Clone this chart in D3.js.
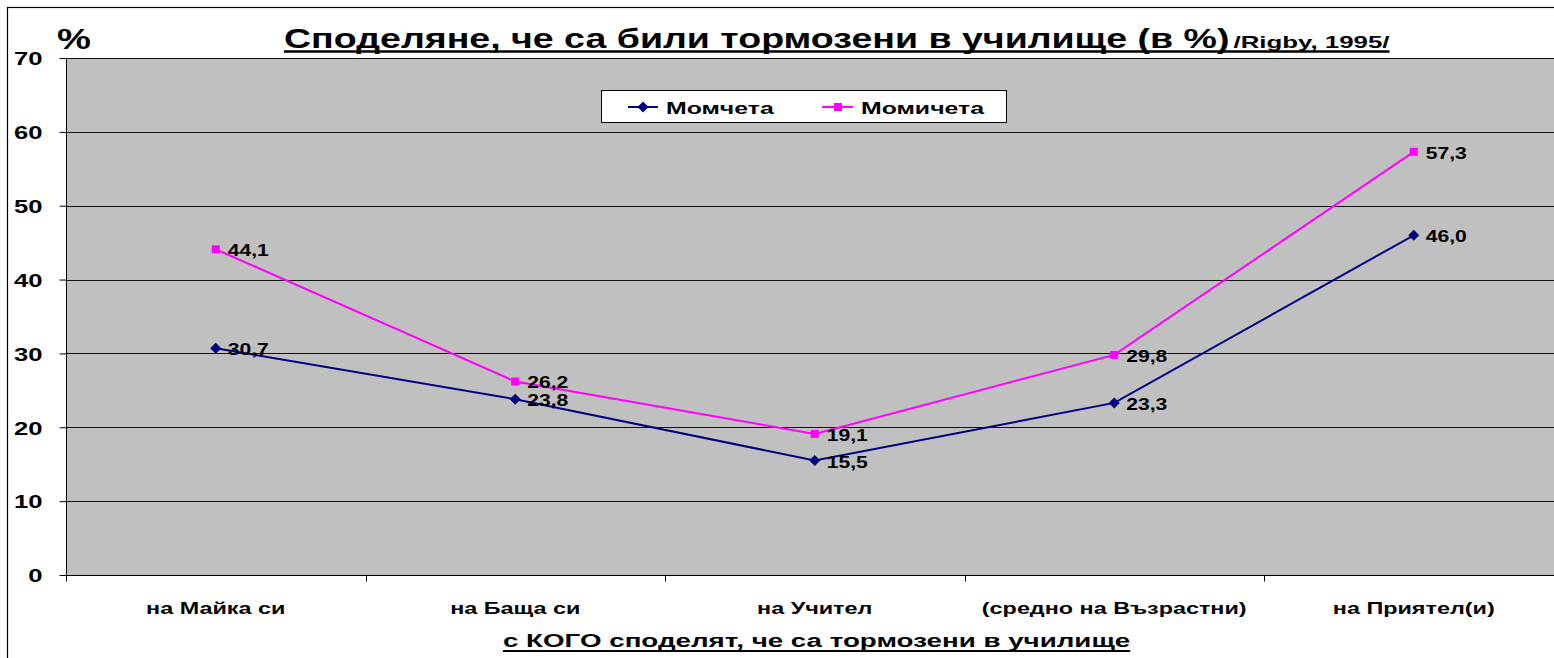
<!DOCTYPE html>
<html><head><meta charset="utf-8">
<script src="https://cdn.jsdelivr.net/npm/d3@7"></script>
<style>html,body{margin:0;padding:0;background:#fff;overflow:hidden}svg{display:block;font-family:"Liberation Sans",Arial,sans-serif}</style>
</head><body>
<svg id="c" width="1554" height="658"></svg>
<script>
const categories = ["на Майка си","на Баща си","на Учител","(средно на Възрастни)","на Приятел(и)"];
const boys = [30.7, 23.8, 15.5, 23.3, 46.0];
const girls = [44.1, 26.2, 19.1, 29.8, 57.3];
const seriesNames = ["Момчета","Момичета"];
const yTicks = [0,10,20,30,40,50,60,70];

(function(){
const svg = d3.select("#c");
const pLeft = 66, pTop = 58, pBottom = 575, bandW = 299.5;
const pRight = pLeft + bandW * categories.length;
const x = d3.scaleBand().domain(categories).range([pLeft, pRight]).padding(0);
const y = d3.scaleLinear().domain([0,70]).range([pBottom, pTop]);
const fmt = v => v.toFixed(1).replace(".", ",");

// horizontally widen text (reference glyphs are wider than Liberation Sans)
function stretch(sel, sx){
  sel.each(function(){
    const w = this.getComputedTextLength();
    d3.select(this).attr("textLength", w*sx).attr("lengthAdjust","spacingAndGlyphs");
  });
  return sel;
}

// outer border
svg.append("rect").attr("x",7.5).attr("y",7.5).attr("width",1600).attr("height",700)
  .attr("fill","#fff").attr("stroke","#000").attr("stroke-width",1.2);

// plot area
svg.append("rect").attr("x",pLeft).attr("y",pTop).attr("width",pRight-pLeft).attr("height",pBottom-pTop)
  .attr("fill","#C0C0C0");

// gridlines
svg.append("g").selectAll("line").data(yTicks.filter(d=>d>0)).join("line")
  .attr("x1",pLeft).attr("x2",pRight).attr("y1",d=>Math.round(y(d))+0.5).attr("y2",d=>Math.round(y(d))+0.5)
  .attr("stroke","#111").attr("stroke-width",1.2);

// y axis
const yAxis = d3.axisLeft(y).tickValues(yTicks).tickSize(7).tickFormat(d3.format("d")).tickPadding(17);
const gy = svg.append("g").attr("transform",`translate(${pLeft+0.5},0)`).call(yAxis);
gy.select(".domain").attr("stroke","#000").attr("d",`M0,${pTop}V${pBottom}`);
gy.selectAll(".tick line").attr("stroke","#000");
gy.selectAll(".tick text").attr("font-size",19).attr("font-weight","bold").attr("fill","#000")
  .attr("font-family","Liberation Sans, Arial, sans-serif").attr("dy","0.36em");
stretch(gy.selectAll(".tick text"), 1.35);

// x axis
const gx = svg.append("g").attr("transform",`translate(0,${pBottom+0.5})`);
gx.append("line").attr("x1",pLeft).attr("x2",pRight).attr("stroke","#000");
const boundaries = d3.range(categories.length+1).map(i=>pLeft+i*bandW);
gx.selectAll("line.tk").data(boundaries).join("line").attr("class","tk")
  .attr("x1",d=>Math.round(d)+0.5).attr("x2",d=>Math.round(d)+0.5).attr("y1",0).attr("y2",6).attr("stroke","#000");
stretch(gx.selectAll("text").data(categories).join("text")
  .attr("x",d=>x(d)+x.bandwidth()/2).attr("y",38).attr("text-anchor","middle")
  .attr("font-size",16).attr("font-weight","bold").attr("fill","#000").text(d=>d), 1.46);

// lines
const cx = d => x(d) + x.bandwidth()/2;
const line = d3.line().x((d,i)=>cx(categories[i])).y(d=>y(d));
svg.append("path").datum(boys).attr("d",line).attr("fill","none").attr("stroke","#000080").attr("stroke-width",2);
svg.append("path").datum(girls).attr("d",line).attr("fill","none").attr("stroke","#FF00FF").attr("stroke-width",2);

// markers
svg.append("g").selectAll("path").data(boys).join("path")
  .attr("transform",(d,i)=>`translate(${cx(categories[i])},${y(d)})`)
  .attr("d","M0,-5.5L5.5,0L0,5.5L-5.5,0Z").attr("fill","#000080");
svg.append("g").selectAll("rect").data(girls).join("rect")
  .attr("x",(d,i)=>cx(categories[i])-4).attr("y",d=>y(d)-4).attr("width",8).attr("height",8).attr("fill","#FF00FF");

// data labels
const lab = (arr) => stretch(svg.append("g").selectAll("text").data(arr).join("text")
  .attr("x",(d,i)=>cx(categories[i])+12).attr("y",d=>y(d)+7)
  .attr("font-size",17).attr("font-weight","bold").attr("fill","#000").text(d=>fmt(d)), 1.24);
lab(boys); lab(girls);

// legend
const lg = svg.append("g");
lg.append("rect").attr("x",601.5).attr("y",90.5).attr("width",405).attr("height",32).attr("fill","#fff").attr("stroke","#000");
lg.append("line").attr("x1",628).attr("x2",658).attr("y1",107).attr("y2",107).attr("stroke","#000080").attr("stroke-width",2);
lg.append("path").attr("transform","translate(643,107)").attr("d","M0,-5.5L5.5,0L0,5.5L-5.5,0Z").attr("fill","#000080");
stretch(lg.append("text").attr("x",666).attr("y",114).attr("font-size",17).attr("font-weight","bold").text(seriesNames[0]), 1.46);
lg.append("line").attr("x1",822).attr("x2",853).attr("y1",107).attr("y2",107).attr("stroke","#FF00FF").attr("stroke-width",2);
lg.append("rect").attr("x",834).attr("y",103).attr("width",8).attr("height",8).attr("fill","#FF00FF");
stretch(lg.append("text").attr("x",861).attr("y",114).attr("font-size",17).attr("font-weight","bold").text(seriesNames[1]), 1.46);

// title
const t1 = svg.append("text").attr("x",284).attr("y",48).attr("font-size",27).attr("font-weight","bold").attr("fill","#000")
  .text("Споделяне, че са били тормозени в училище (в %)");
stretch(t1, 1.39);
const t1end = 284 + (+t1.attr("textLength"));
const t2 = svg.append("text").attr("x",t1end+4).attr("y",48).attr("font-size",17).attr("font-weight","bold").attr("fill","#000")
  .text("/Rigby, 1995/");
stretch(t2, 1.52);
const t2end = t1end + 4 + (+t2.attr("textLength"));
svg.append("line").attr("x1",284).attr("x2",t2end).attr("y1",51.5).attr("y2",51.5).attr("stroke","#000").attr("stroke-width",2.5);

stretch(svg.append("text").attr("x",57).attr("y",49).attr("font-size",30).attr("font-weight","bold").text("%"), 1.27);

// axis title
const at = svg.append("text").attr("x",503).attr("y",647).attr("font-size",18)
  .attr("font-weight","bold").text("с КОГО споделят, че са тормозени в училище");
stretch(at, 1.54);
svg.append("line").attr("x1",503).attr("x2",503+(+at.attr("textLength"))).attr("y1",651).attr("y2",651)
  .attr("stroke","#000").attr("stroke-width",2);
})();
</script>
</body></html>
